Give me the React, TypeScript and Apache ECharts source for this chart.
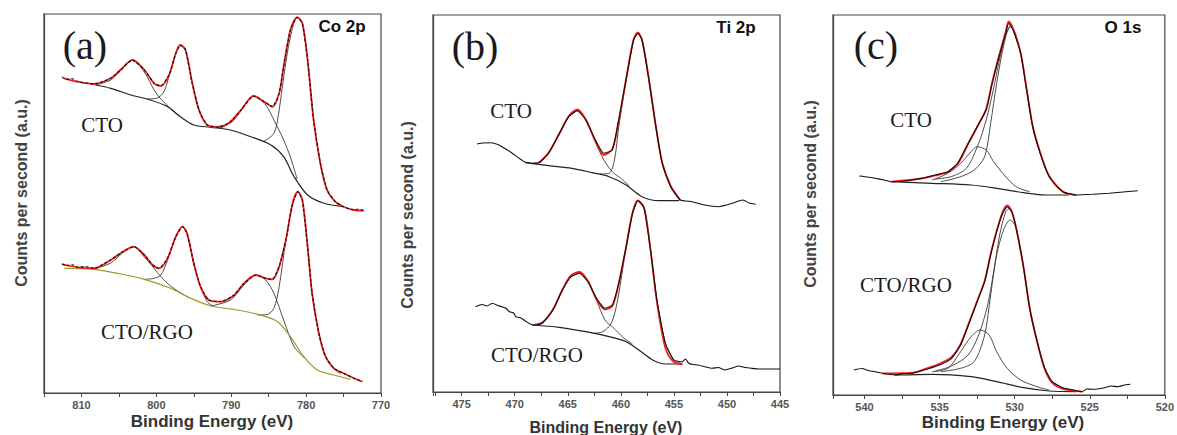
import React, { useEffect, useRef } from "react";
import * as echarts from "echarts";

// ---------- Panel (a) Co 2p ----------
const coCtoRaw = [[812.6,316],[812.0,313.5],[811.3,314.5],[810.5,311.3],[809.4,310],[808.3,309],[806.1,314.7],[804.8,323],[803.2,333],[801.6,323],[800.3,309.7],[799.4,307],[798.3,318],[797.4,339.7],[796.8,348],[796.1,343],[795.2,309.7],[794.3,283],[793.2,268],[791.6,265.7],[790.1,271.3],[788.7,283],[787.0,297],[785.6,291.3],[784.5,286.3],[783.6,299.7],[783.0,326.3],[782.1,363],[781.2,375.7],[780.5,369.7],[779.8,333],[779.0,273],[778.1,229.7],[777.2,203],[776.1,191.3],[775.0,186.3],[773.6,183],[773.0,184],[772.3,182.3]];
const coCtoFit = [[812.3,314.7],[810.5,311.3],[808.3,309],[806.1,314.7],[804.8,323],[803.2,333],[801.6,323],[800.3,309.7],[799.4,307],[798.3,318],[797.4,339.7],[796.8,348],[796.1,343],[795.2,309.7],[794.3,283],[793.2,268],[791.6,265.7],[790.1,271.3],[788.7,283],[787.0,297],[785.6,291.3],[784.5,286.3],[783.6,299.7],[783.0,326.3],[782.1,363],[781.2,375.7],[780.5,369.7],[779.8,333],[779.0,273],[778.1,229.7],[777.2,203],[776.1,191.3],[775.0,186.3],[773.6,183],[772.3,182.3]];
const coCtoBg = [[808.1,308],[806.1,304.7],[803.4,298],[800.8,293],[798.5,286.3],[796.8,276.3],[795.0,268],[792.7,265.7],[790.1,263],[787.4,256.3],[784.7,248],[783.0,236.3],[781.6,216.3],[779.8,198],[777.6,189.7],[775.0,186.3]];
const coCtoP1 = [[808.1,308],[806.1,313],[804.8,322],[803.2,333],[801.6,321],[800.3,303],[799.4,294],[798.0,284],[796.8,276.3]];
const coCtoP2 = [[801.2,294],[799.9,295],[799.0,301],[798.3,317],[797.4,339.7],[796.8,348],[796.1,343],[795.2,309.7],[794.3,283],[793.5,270],[792.7,265.7]];
const coCtoP3 = [[792.7,265.7],[790.1,270],[788.7,282],[787.0,297],[785.4,288],[784.3,273],[783.0,253],[782.1,236],[781.2,214]];
const coCtoP4 = [[785.8,251],[784.3,259.7],[783.6,283],[783.0,316],[782.1,356],[781.2,375.7],[780.5,369.7],[779.8,333],[779.0,273],[778.1,229.7],[777.2,203],[776.1,191],[775.5,188]];

const coRgoRaw = [[812.6,129],[812.0,127],[811.3,128.5],[810.5,125.7],[809.5,126.5],[808.3,124.7],[806.1,133],[804.5,141.3],[803.0,146.3],[801.6,138],[800.5,128],[799.6,124.7],[798.5,134.7],[797.4,156.3],[796.5,166.3],[795.9,159.7],[795.0,129.7],[794.1,106.3],[793.0,93],[791.4,91.3],[789.6,98],[788.3,109.7],[786.7,118],[785.4,114.7],[784.5,113.7],[783.6,126.3],[782.7,153],[781.8,189.7],[781.1,201.3],[780.5,193],[779.8,146.3],[779.2,99.7],[778.3,59.7],[777.4,36.3],[776.3,24.7],[775.0,19.7],[773.6,14.7],[773.0,13],[772.5,11.3]];
const coRgoFit = [[812.6,129],[810.5,125.7],[808.3,124.7],[806.1,133],[804.5,141.3],[803.0,146.3],[801.6,138],[800.5,128],[799.6,124.7],[798.5,134.7],[797.4,156.3],[796.5,166.3],[795.9,159.7],[795.0,129.7],[794.1,106.3],[793.0,93],[791.4,91.3],[789.6,98],[788.3,109.7],[786.7,118],[785.4,114.7],[784.5,113.7],[783.6,126.3],[782.7,153],[781.8,189.7],[781.1,201.3],[780.5,193],[779.8,146.3],[779.2,99.7],[778.3,59.7],[777.4,36.3],[776.3,24.7],[775.0,19.7],[773.6,14.7],[772.5,11.3]];
const coRgoBg = [[812.3,124.7],[808.3,123.7],[805.2,119.7],[801.6,113.7],[798.1,104.7],[795.4,94.7],[792.7,87],[789.2,83],[786.1,78],[783.8,71.3],[782.1,56.3],[780.3,36.3],[778.5,23],[776.3,18],[774.1,13.7]];
const coRgoP1 = [[808.3,124],[806.1,130],[804.5,140],[803.0,146.3],[801.6,136],[800.3,124.7],[799.4,116.3],[798.1,107],[796.3,98]];
const coRgoP2 = [[801.6,113.7],[800.3,114.7],[799.4,118],[798.5,133],[797.4,156.3],[796.5,166.3],[795.9,159.7],[795.0,129.7],[794.1,106.3],[793.2,91.3],[792.3,86.3]];
const coRgoP3 = [[792.7,87],[790.1,93],[788.3,108],[786.7,118],[785.4,113],[784.3,99.7],[783.0,73],[781.6,46.3],[780.2,35]];
const coRgoP4 = [[786.5,78],[785.2,78.5],[784.3,84.7],[783.6,106.3],[782.7,153],[781.8,189.7],[781.1,201.3],[780.5,193],[779.8,146.3],[779.2,99.7],[778.3,59.7],[777.4,36.3],[776.3,24.7],[775.4,19]];

// ---------- Panel (b) Ti 2p ----------
const tiCtoRaw = [[473.55,248],[473.0,249],[472.2,249.3],[471.6,247.5],[471.2,245.3],[470.3,239.3],[469.1,230.3],[468.3,228.7],[467.7,229.3],[466.8,238.7],[465.8,258.7],[464.9,275.3],[464.1,281.3],[463.3,272],[462.4,252],[461.6,238.7],[460.8,242],[460.2,272],[459.4,318.7],[458.8,352],[458.4,358.7],[458.0,352],[457.4,315.3],[456.7,265.3],[456.1,228.7],[455.3,205.3],[454.4,192],[453.3,190.3],[452.1,187],[450.8,185.3],[449.5,188.7],[448.9,191],[448.5,192],[447.9,189],[447.3,187.7]];
const tiCtoFit = [[467.7,229.3],[466.8,239.5],[465.8,258],[464.9,276],[464.1,282.5],[463.3,272.5],[462.4,251],[461.6,237],[460.8,243],[460.2,271],[459.4,319],[458.8,352.5],[458.4,359.5],[458.0,352],[457.4,316],[456.7,266],[456.1,229.5],[455.3,206],[454.4,192]];
const tiCtoBg = [[469.0,229.3],[466.8,226.3],[464.6,223.7],[462.7,219.3],[461.1,215.3],[459.5,207],[458.0,195.3],[456.4,191.3],[454.5,191.3]];
const tiCtoP1 = [[468.3,229],[467.7,230],[466.8,238.7],[465.8,258.7],[464.9,275.3],[464.1,281.3],[463.3,272],[462.4,250],[461.6,232],[460.8,220.3],[460.0,213.7],[459.2,206]];
const tiCtoP2 = [[462.0,218],[461.1,218.7],[460.6,232],[460.2,265],[459.4,318.7],[458.8,352],[458.4,358.7],[458.0,352],[457.4,315.3],[456.7,265.3],[456.1,228.7],[455.3,205.3],[454.4,192]];

const tiRgoRaw = [[473.7,85.3],[473.1,87.5],[472.6,86],[472.1,88.7],[471.6,86.5],[471.2,85.3],[470.8,83.5],[470.5,80.3],[470.1,79],[469.9,75.3],[469.4,74],[468.9,70.3],[468.3,67],[467.4,68.7],[466.4,82],[465.5,102],[464.7,115.3],[463.9,118.7],[463.1,110.3],[462.3,93.7],[461.5,83.7],[460.8,87],[460.2,108.7],[459.5,145.3],[458.9,178.7],[458.4,191.3],[457.8,183.7],[457.2,142],[456.6,92],[455.8,48.7],[455.0,32],[454.2,30.3],[453.9,33],[453.6,28.7],[453.2,27.5],[452.7,27],[452.0,25],[451.4,23.7],[450.8,24.5],[450.2,22],[449.5,24],[448.9,26],[448.3,24.5],[447.7,23.7],[447.0,23],[445.0,23]];
const tiRgoFit = [[468.3,67],[467.4,69.5],[466.4,82.5],[465.5,102.5],[464.7,116.5],[463.9,120],[463.1,111],[462.3,93],[461.5,82.5],[460.8,86],[460.2,108],[459.5,145],[458.9,179],[458.4,191.5],[457.8,184],[457.2,142],[456.6,90],[455.8,44],[455.0,30],[454.2,28]];
const tiRgoBg = [[468.3,67],[465.8,64.7],[463.3,60.3],[461.1,55.3],[459.5,50.3],[458.3,42],[457.0,32],[455.8,28],[454.2,28]];
const tiRgoP1 = [[468.3,67],[467.4,69],[466.4,82],[465.5,102],[464.7,115.3],[463.9,118.7],[463.1,110.3],[462.3,92],[461.5,72],[460.8,65.3],[459.7,53.7],[458.9,48]];
const tiRgoP2 = [[462.6,58.7],[461.7,60.3],[460.9,68.7],[460.3,92],[459.5,145.3],[458.9,178.7],[458.4,191.3],[457.8,183.7],[457.2,142],[456.6,92],[455.8,48.7],[455.0,32],[454.2,28]];

// ---------- Panel (c) O 1s ----------
const oCtoRaw = [[540.35,219],[539.8,218],[539.3,216.7],[538.7,215],[538.2,213.3],[537.1,214.3],[536.2,216.7],[535.3,220],[534.45,223.3],[533.8,231.7],[533.1,251.7],[532.5,268.3],[531.9,285],[531.5,311.7],[531.1,335],[530.6,361.7],[530.4,371.7],[530.1,365],[529.6,341.7],[529.2,305],[528.8,268.3],[528.3,241.7],[527.7,218.3],[526.8,203.3],[525.9,200],[524.8,200.7],[523.7,201.7],[522.6,203.3],[521.8,204.3]];
const oCtoFit = [[538.2,213.3],[536.2,216.5],[535.3,219.5],[534.45,223],[533.8,231],[533.1,251],[532.5,268],[531.9,286],[531.5,312.5],[531.1,336],[530.6,363],[530.4,373.5],[530.1,366],[529.6,342],[529.2,305.5],[528.8,269],[528.3,242.5],[527.7,219],[526.8,203.5],[525.9,200]];
const oCtoBg = [[538.2,213.3],[535.5,211.7],[532.9,210],[531.2,206.7],[529.4,202.3],[527.9,200],[526.4,200]];
const oCtoP1 = [[535.5,215],[534.45,221.7],[533.6,231.7],[532.9,243.3],[532.5,248.3],[531.9,245],[531.4,233.3],[530.7,220],[529.9,208.3],[529.0,203.3]];
const oCtoP2 = [[534.9,213.3],[533.6,218.3],[532.7,225],[532.0,238.3],[531.6,271.7],[531.2,311.7],[530.7,351.7],[530.3,368.3],[530.0,363.3],[529.6,341.7],[529.2,305],[528.8,268.3],[528.3,241.7],[527.7,218.3],[526.8,203.3],[525.9,200]];
const oCtoP3 = [[535.3,216],[534.2,218.5],[533.2,227],[532.4,251.7],[531.9,275],[531.5,300],[531.0,336],[530.6,360],[530.3,369]];

const oRgoRaw = [[540.7,25],[540.2,26.5],[539.7,24.3],[539.2,23],[538.8,21.7],[538.0,20],[537.4,21.5],[536.9,21.7],[535.8,26],[534.9,30.7],[534.2,36.7],[533.6,50],[533.0,73.3],[532.5,93.3],[532.0,113.3],[531.6,140],[531.2,163.3],[530.8,181.7],[530.5,188.3],[530.2,183.3],[529.9,166.7],[529.4,126.7],[529.0,86.7],[528.5,53.3],[528.0,26.7],[527.5,13.3],[526.8,7.3],[526.1,5],[525.5,3.3],[525.2,6],[524.8,5.7],[524.0,7.3],[523.6,9],[523.1,8.3],[522.7,10],[522.3,10.7]];
const oRgoFit = [[538.8,21.5],[536.9,22],[535.8,27],[534.9,32],[534.2,38],[533.6,51],[533.0,74],[532.5,94],[532.0,114],[531.6,141],[531.2,164],[530.8,183],[530.5,189.5],[530.2,184],[529.9,167],[529.4,127],[529.0,87],[528.5,53],[528.0,26],[527.5,12],[526.8,6],[526.1,4.5],[525.5,3.3]];
const oRgoBg = [[538.0,20],[535.5,20.7],[532.9,18.3],[531.2,13.3],[529.4,7.3],[527.7,4],[525.9,3.3]];
const oRgoP1 = [[535.5,23.3],[534.45,26.7],[533.6,43.3],[532.9,58.3],[532.3,65],[531.7,60],[531.2,43.3],[530.5,26.7],[529.6,15],[528.5,8.3],[527.7,5]];
const oRgoP2 = [[534.9,23.3],[533.6,26.7],[532.7,33.3],[532.0,60],[531.6,100],[531.2,140],[530.7,166.7],[530.3,175],[529.9,166.7],[529.4,126.7],[529.0,86.7],[528.5,53.3],[528.0,26.7],[527.5,13.3],[526.8,7],[526.1,5]];
const oRgoP3 = [[535.3,24],[534.2,29],[533.1,40],[532.4,60],[531.8,90],[531.4,123.3],[531.0,160],[530.6,183.3],[530.4,186]];

const xTitle = "Binding Energy (eV)";
const yTitle = "Counts per second (a.u.)";
const panelTags = ["(a)", "(b)", "(c)"];
const panelCores = ["Co 2p", "Ti 2p", "O 1s"];
const sampleNames = ["CTO", "CTO/RGO"];

const SANS = '"Liberation Sans", Arial, sans-serif';
const SERIF = '"Liberation Serif", "Times New Roman", serif';

function line(g: number, data: number[][], color: string, width: number, type: any = "solid", z = 2, smooth = 0.3) {
  return {
    type: "line",
    xAxisIndex: g,
    yAxisIndex: g,
    data,
    showSymbol: false,
    smooth,
    silent: true,
    z,
    lineStyle: { color, width, type },
  };
}

export default function App() {
  const ref = useRef<HTMLDivElement>(null);
  useEffect(() => {
    document.body.style.margin = "0";
    const chart = echarts.init(ref.current!, null, { renderer: "svg" });

    const grids = [
      { left: 44, top: 14, width: 337, height: 379 },
      { left: 433, top: 15, width: 347, height: 377 },
      { left: 833, top: 15, width: 335, height: 380 },
    ];
    const xr = [
      { min: 770, max: 815, interval: 10 },
      { min: 445, max: 477.7, interval: 5 },
      { min: 520, max: 542.1, interval: 5 },
    ];

    const compColor = "#3a3a3a";
    const series: any[] = [];
    const addPanel = (g: number, sets: any[]) => {
      sets.forEach((s) => {
        s.comps.forEach((c: number[][]) => series.push(line(g, c, compColor, 0.9, "solid", 2)));
        series.push(line(g, s.bg, s.bgColor, 1.2, "solid", 3));
        series.push(line(g, s.fit, "#ff1a1a", 1.8, "solid", 4));
        series.push(line(g, s.raw, "#111", 1.1, g === 0 ? [3, 2] : "solid", 5, 0.15));
      });
    };
    addPanel(0, [
      { raw: coCtoRaw, fit: coCtoFit, bg: coCtoBg, bgColor: "#222", comps: [coCtoP1, coCtoP2, coCtoP3, coCtoP4] },
      { raw: coRgoRaw, fit: coRgoFit, bg: coRgoBg, bgColor: "#9c9a2c", comps: [coRgoP1, coRgoP2, coRgoP3, coRgoP4] },
    ]);
    addPanel(1, [
      { raw: tiCtoRaw, fit: tiCtoFit, bg: tiCtoBg, bgColor: "#222", comps: [tiCtoP1, tiCtoP2] },
      { raw: tiRgoRaw, fit: tiRgoFit, bg: tiRgoBg, bgColor: "#222", comps: [tiRgoP1, tiRgoP2] },
    ]);
    addPanel(2, [
      { raw: oCtoRaw, fit: oCtoFit, bg: oCtoBg, bgColor: "#222", comps: [oCtoP1, oCtoP2, oCtoP3] },
      { raw: oRgoRaw, fit: oRgoFit, bg: oRgoBg, bgColor: "#222", comps: [oRgoP1, oRgoP2, oRgoP3] },
    ]);

    const texts: any[] = [];
    const tagPos = [[85, 45], [475, 46], [876, 45]];
    const corePos = [[342, 26], [736, 27], [1123, 27]];
    const ctoPos = [[102, 125], [511, 111], [911, 120]];
    const rgoPos = [[147, 332], [537, 355], [906, 285]];
    const xtPos = [[212, 421, 17], [606, 427, 16], [1003, 422, 17]];
    const ytPos = [[21, 193], [407, 215], [810, 194]];
    for (let i = 0; i < 3; i++) {
      texts.push({ type: "text", x: tagPos[i][0], y: tagPos[i][1], style: { text: panelTags[i], font: `40px ${SERIF}`, fill: "#1a1a1a", align: "center", verticalAlign: "middle" } });
      texts.push({ type: "text", x: corePos[i][0], y: corePos[i][1], style: { text: panelCores[i], font: `bold 17px ${SANS}`, fill: "#111", align: "center", verticalAlign: "middle" } });
      texts.push({ type: "text", x: ctoPos[i][0], y: ctoPos[i][1], style: { text: sampleNames[0], font: `21px ${SERIF}`, fill: "#1a1a1a", align: "center", verticalAlign: "middle" } });
      texts.push({ type: "text", x: rgoPos[i][0], y: rgoPos[i][1], style: { text: sampleNames[1], font: `21px ${SERIF}`, fill: "#1a1a1a", align: "center", verticalAlign: "middle" } });
      texts.push({ type: "text", x: xtPos[i][0], y: xtPos[i][1], style: { text: xTitle, font: `bold ${xtPos[i][2]}px ${SANS}`, fill: "#333", align: "center", verticalAlign: "middle" } });
      texts.push({ type: "text", x: ytPos[i][0], y: ytPos[i][1], rotation: Math.PI / 2, style: { text: yTitle, font: `bold 16px ${SANS}`, fill: "#444", align: "center", verticalAlign: "middle" } });
    }

    chart.setOption({
      animation: false,
      backgroundColor: "#fff",
      grid: grids.map((g) => ({ ...g, show: true, borderColor: "#444", borderWidth: 1.2, backgroundColor: "transparent" })),
      xAxis: xr.map((r, i) => ({
        gridIndex: i,
        type: "value",
        inverse: true,
        min: r.min,
        max: r.max,
        interval: r.interval,
        axisLine: { show: true, onZero: false, lineStyle: { color: "#444", width: 1.2 } },
        axisTick: { show: true, length: 4, lineStyle: { color: "#444" } },
        minorTick: { show: true, splitNumber: 2, length: 4, lineStyle: { color: "#444" } },
        axisLabel: { color: "#555", fontSize: 11, fontWeight: "bold", fontFamily: SANS, margin: 6, showMaxLabel: false },
        splitLine: { show: false },
      })),
      yAxis: grids.map((g, i) => ({
        gridIndex: i,
        type: "value",
        min: 0,
        max: g.height,
        axisLine: { show: true, lineStyle: { color: "#444", width: 1.2 } },
        axisTick: { show: false },
        axisLabel: { show: false },
        splitLine: { show: false },
      })),
      series,
      graphic: texts,
    });
    return () => chart.dispose();
  }, []);
  return <div ref={ref} style={{ width: 1177, height: 435 }} />;
}
